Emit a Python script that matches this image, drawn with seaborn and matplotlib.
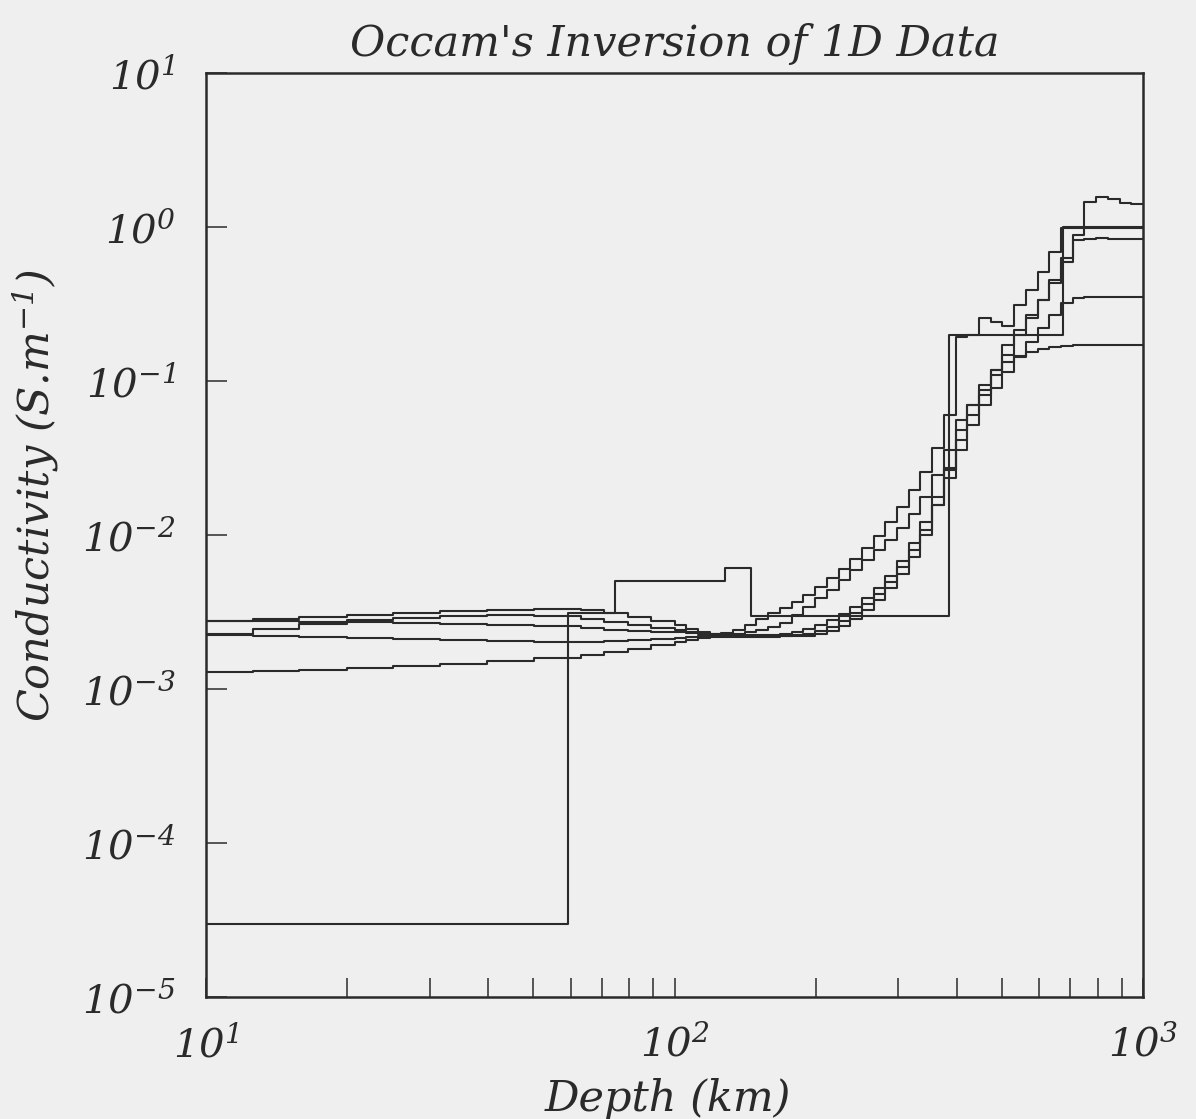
import numpy as np
import pandas as pd
import matplotlib
matplotlib.use("Agg")
import matplotlib.pyplot as plt
import seaborn as sns
from matplotlib.ticker import LogLocator, NullLocator

# ---------------- data ----------------
# Occam model layer tops (km); last layer extends to bottom_depth_km
layer_top_km = [10.0, 12.6, 15.8, 20.0, 25.1, 31.6, 39.8, 50.1,
                63.1, 70.8, 79.4, 89.1,
                100.0, 105.9, 112.2, 118.9, 125.9, 133.4, 141.3, 149.6,
                158.5, 167.9, 177.8, 188.4, 199.5, 211.3, 223.9, 237.1,
                251.2, 266.1, 281.8, 298.5, 316.2, 335.0, 354.8, 375.8,
                398.1, 421.7, 446.7, 473.2, 501.2, 530.9, 562.3, 595.7,
                631.0, 668.3, 707.9, 749.9, 794.3, 841.4, 891.3, 944.1]
bottom_depth_km = 1000.0

# log10 conductivity (S/m) of each layer, five Occam models
occam_1_log = [-2.558, -2.545, -2.532, -2.519, -2.506, -2.494, -2.487, -2.481, -2.487, -2.506, -2.532, -2.558,
               -2.584, -2.610, -2.630, -2.643, -2.636, -2.617, -2.584, -2.545, -2.506, -2.474, -2.435, -2.390,
               -2.338, -2.279, -2.221, -2.156, -2.084, -2.006, -1.916, -1.818, -1.708, -1.591, -1.435, -1.221,
               -0.714, -0.701, -0.591, -0.617, -0.643, -0.506, -0.409, -0.292, -0.162, -0.006, -0.006, 0.162,
               0.195, 0.182, 0.156, 0.149]
occam_2_log = [-2.643, -2.610, -2.578, -2.552, -2.539, -2.526, -2.519, -2.526, -2.545, -2.565, -2.584, -2.604,
               -2.617, -2.630, -2.636, -2.643, -2.643, -2.643, -2.630, -2.617, -2.597, -2.571, -2.519, -2.468,
               -2.409, -2.357, -2.292, -2.227, -2.162, -2.097, -2.032, -1.955, -1.864, -1.753, -1.610, -1.448,
               -1.253, -1.156, -1.058, -0.929, -0.766, -0.669, -0.571, -0.474, -0.364, -0.227, -0.052, -0.006,
               -0.006, -0.006, -0.006, -0.006]
occam_3_log = [-2.558, -2.558, -2.565, -2.565, -2.571, -2.578, -2.584, -2.591, -2.604, -2.617, -2.623, -2.630,
               -2.630, -2.636, -2.643, -2.649, -2.649, -2.649, -2.649, -2.649, -2.649, -2.643, -2.630, -2.610,
               -2.584, -2.552, -2.513, -2.468, -2.409, -2.344, -2.266, -2.169, -2.052, -1.916, -1.753, -1.565,
               -1.383, -1.221, -1.091, -0.961, -0.831, -0.701, -0.591, -0.474, -0.344, -0.201, -0.084, -0.078,
               -0.071, -0.078, -0.078, -0.078]
occam_4_log = [-2.649, -2.656, -2.662, -2.669, -2.675, -2.682, -2.688, -2.695, -2.695, -2.688, -2.682, -2.675,
               -2.669, -2.662, -2.656, -2.656, -2.656, -2.656, -2.656, -2.656, -2.656, -2.656, -2.649, -2.643,
               -2.623, -2.597, -2.558, -2.506, -2.448, -2.383, -2.305, -2.208, -2.097, -1.968, -1.805, -1.630,
               -1.448, -1.286, -1.156, -1.045, -0.942, -0.844, -0.747, -0.656, -0.571, -0.494, -0.461, -0.455,
               -0.455, -0.455, -0.455, -0.455]
occam_5_log = [-2.890, -2.883, -2.877, -2.864, -2.851, -2.838, -2.818, -2.799, -2.779, -2.760, -2.740, -2.714,
               -2.695, -2.682, -2.669, -2.662, -2.662, -2.662, -2.662, -2.662, -2.662, -2.656, -2.656, -2.656,
               -2.643, -2.623, -2.591, -2.545, -2.487, -2.422, -2.344, -2.253, -2.143, -2.000, -1.805, -1.578,
               -1.318, -1.156, -1.026, -0.929, -0.877, -0.838, -0.812, -0.792, -0.779, -0.773, -0.766, -0.766,
               -0.766, -0.766, -0.766, -0.766]

# Simple layered (test) model
layered_top_km = [10.0, 59.3, 74.6, 128.0, 146.0, 385.0, 675.0]
layered_sigma = [3.0e-5, 3.1e-3, 5.0e-3, 6.1e-3, 3.0e-3, 0.20, 1.0]

x_tick_values = [10, 100, 1000]
x_tick_labels = [r"$10^{1}$", r"$10^{2}$", r"$10^{3}$"]
y_tick_values = [1e-5, 1e-4, 1e-3, 1e-2, 1e-1, 1e0, 1e1]
y_tick_labels = [r"$10^{-5}$", r"$10^{-4}$", r"$10^{-3}$", r"$10^{-2}$",
                 r"$10^{-1}$", r"$10^{0}$", r"$10^{1}$"]

title = "Occam's Inversion of 1D Data"
x_label = "Depth (km)"
y_label = r"Conductivity (S.m$^{-1}$)"

# ---------------- build table ----------------
rows = []
occam = {"occam1": occam_1_log, "occam2": occam_2_log, "occam3": occam_3_log,
         "occam4": occam_4_log, "occam5": occam_5_log}
for name, vals in occam.items():
    depths = layer_top_km + [bottom_depth_km]
    sig = [10.0 ** v for v in vals] + [10.0 ** vals[-1]]
    for d, s in zip(depths, sig):
        rows.append((name, d, s))
for d, s in zip(layered_top_km + [bottom_depth_km], layered_sigma + [layered_sigma[-1]]):
    rows.append(("layered", d, s))
df = pd.DataFrame(rows, columns=["model", "depth", "sigma"])

# ---------------- style ----------------
sns.set_style("ticks")
bg = "#efefef"
ink = "#2a2a2a"
plt.rcParams.update({
    "font.family": ["DejaVu Serif"],
    "font.style": "italic",
    "mathtext.fontset": "custom",
    "mathtext.rm": "DejaVu Serif:italic",
    "mathtext.it": "DejaVu Serif:italic",
    "mathtext.default": "rm",
    "text.color": ink,
    "axes.labelcolor": ink,
    "xtick.color": ink,
    "ytick.color": ink,
})

fig = plt.figure(figsize=(11.96, 11.19), dpi=100, facecolor=bg)
ax = fig.add_axes([206 / 1196, 1 - 997 / 1119, 937 / 1196, 924 / 1119])
ax.set_facecolor(bg)

palette = {m: ink for m in df["model"].unique()}
sns.lineplot(data=df, x="depth", y="sigma", hue="model", palette=palette,
             estimator=None, drawstyle="steps-post", linewidth=1.5,
             legend=False, ax=ax)

ax.set_xscale("log")
ax.set_yscale("log")
ax.set_xlim(10, 1000)
ax.set_ylim(1e-5, 10)

ax.set_xticks(x_tick_values)
ax.set_xticklabels(x_tick_labels)
ax.xaxis.set_minor_locator(LogLocator(base=10, subs=(2, 3, 4, 5, 6, 7, 8, 9)))
ax.set_yticks(y_tick_values)
ax.set_yticklabels(y_tick_labels)
ax.yaxis.set_minor_locator(NullLocator())

ax.tick_params(axis="x", which="both", direction="in", length=14, width=1.1,
               bottom=True, top=False, labelsize=29, pad=20)
ax.tick_params(axis="y", which="both", direction="in", length=15, width=1.1,
               left=True, right=False, labelsize=29, pad=22)

for sp in ax.spines.values():
    sp.set_linewidth(1.8)
    sp.set_color(ink)

ax.set_xlabel(x_label, fontsize=31)
ax.xaxis.set_label_coords(0.493, -0.088)
ax.set_ylabel(y_label, fontsize=31)
ax.yaxis.set_label_coords(-0.155, 0.543)
ax.set_title(title, fontsize=31, pad=12)

fig.savefig("out.png", dpi=100, facecolor=bg)
